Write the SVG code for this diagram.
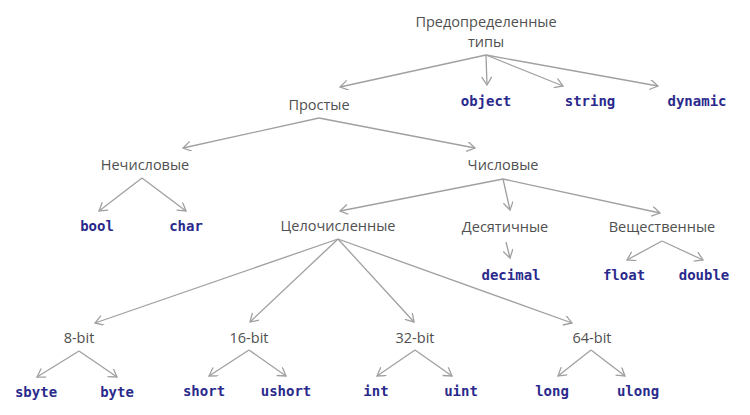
<svg xmlns="http://www.w3.org/2000/svg" width="750" height="415" viewBox="0 0 750 415">
<defs>
<marker id="arr" markerWidth="12" markerHeight="12" refX="9" refY="5" orient="auto" markerUnits="userSpaceOnUse">
<path d="M1,0 L9,5 L1,10" fill="none" stroke="#a0a0a0" stroke-width="1.3"/>
</marker>
</defs>
<style>
.cat{font-family:"Open Sans","Noto Sans",sans-serif;font-size:14.5px;fill:#505050;text-anchor:middle}
.kw{font-family:"DejaVu Sans Mono","Liberation Mono",monospace;font-size:14px;font-weight:bold;fill:#2a2a8c;text-anchor:middle}
.edges line{stroke:#a0a0a0;stroke-width:1.3;fill:none;marker-end:url(#arr)}
</style>
<rect width="750" height="415" fill="#ffffff"/>
<g class="edges" id="connectors">
<line x1="486" y1="55" x2="340" y2="87"/>
<line x1="486" y1="55" x2="487" y2="85"/>
<line x1="486" y1="55" x2="563" y2="86"/>
<line x1="486" y1="55" x2="658" y2="86"/>
<line x1="319" y1="118" x2="183" y2="148"/>
<line x1="319" y1="118" x2="475" y2="148"/>
<line x1="142" y1="178" x2="99" y2="211"/>
<line x1="142" y1="178" x2="186" y2="211"/>
<line x1="503" y1="179" x2="340" y2="211"/>
<line x1="503" y1="179" x2="510" y2="210"/>
<line x1="503" y1="179" x2="660" y2="213"/>
<line x1="506" y1="242" x2="510" y2="258"/>
<line x1="662" y1="241" x2="627" y2="260"/>
<line x1="662" y1="241" x2="703" y2="260"/>
<line x1="338" y1="239" x2="95" y2="323"/>
<line x1="338" y1="239" x2="250" y2="322"/>
<line x1="338" y1="239" x2="414" y2="322"/>
<line x1="338" y1="239" x2="572" y2="323"/>
<line x1="79" y1="351" x2="37" y2="377"/>
<line x1="79" y1="351" x2="117" y2="377"/>
<line x1="249" y1="350" x2="209" y2="376"/>
<line x1="249" y1="350" x2="286" y2="376"/>
<line x1="415" y1="350" x2="377" y2="376"/>
<line x1="415" y1="350" x2="452" y2="376"/>
<line x1="591" y1="350" x2="558" y2="376"/>
<line x1="591" y1="350" x2="625" y2="376"/>
</g>
<g id="root"><text class="cat" x="486" y="27">Предопределенные</text><text class="cat" x="486" y="47">типы</text></g>
<g id="prostye"><text class="cat" x="319" y="110">Простые</text></g>
<g id="object"><text class="kw" x="486" y="106">object</text></g>
<g id="string"><text class="kw" x="590" y="106">string</text></g>
<g id="dynamic"><text class="kw" x="697" y="106">dynamic</text></g>
<g id="nechislovye"><text class="cat" x="145" y="170">Нечисловые</text></g>
<g id="chislovye"><text class="cat" x="503" y="170">Числовые</text></g>
<g id="bool"><text class="kw" x="97" y="231">bool</text></g>
<g id="char"><text class="kw" x="186" y="231">char</text></g>
<g id="celochislennye"><text class="cat" x="338" y="231">Целочисленные</text></g>
<g id="desyatichnye"><text class="cat" x="505" y="232">Десятичные</text></g>
<g id="veshchestvennye"><text class="cat" x="662" y="232">Вещественные</text></g>
<g id="decimal"><text class="kw" x="511" y="280">decimal</text></g>
<g id="float"><text class="kw" x="624" y="280">float</text></g>
<g id="double"><text class="kw" x="704" y="280">double</text></g>
<g id="bit8"><text class="cat" x="79" y="343">8-bit</text></g>
<g id="bit16"><text class="cat" x="249" y="343">16-bit</text></g>
<g id="bit32"><text class="cat" x="415" y="343">32-bit</text></g>
<g id="bit64"><text class="cat" x="592" y="343">64-bit</text></g>
<g id="sbyte"><text class="kw" x="36" y="397">sbyte</text></g>
<g id="byte"><text class="kw" x="117" y="397">byte</text></g>
<g id="short"><text class="kw" x="204" y="396">short</text></g>
<g id="ushort"><text class="kw" x="286" y="396">ushort</text></g>
<g id="int"><text class="kw" x="376" y="396">int</text></g>
<g id="uint"><text class="kw" x="461" y="396">uint</text></g>
<g id="long"><text class="kw" x="552" y="396">long</text></g>
<g id="ulong"><text class="kw" x="638" y="396">ulong</text></g>
</svg>
